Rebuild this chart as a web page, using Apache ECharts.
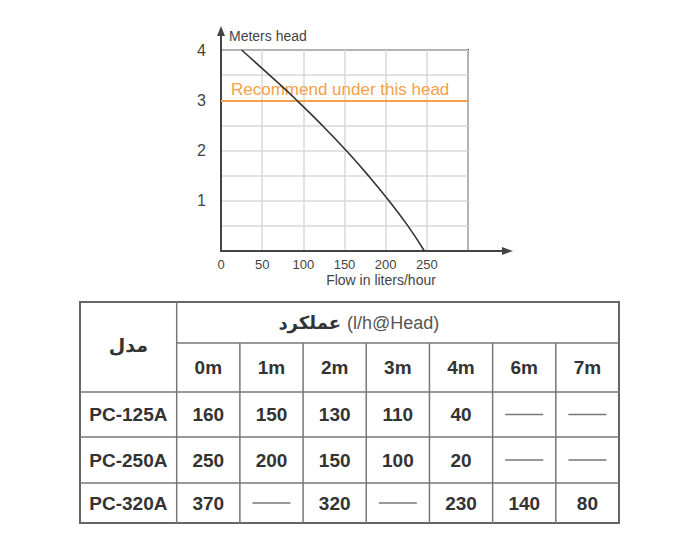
<!DOCTYPE html>
<html>
<head>
<meta charset="utf-8">
<script src="https://cdn.jsdelivr.net/npm/echarts@6/dist/echarts.min.js"></script>
<style>
html,body{margin:0;padding:0;background:#fff;}
#c{width:700px;height:544px;}
</style>
</head>
<body>
<div id="c"></div>
<script>
// ---- chart data ----
const flowValues = [25, 59, 92, 123, 152, 179, 204, 227, 247];
const headValues = [4, 3.5, 3, 2.5, 2, 1.5, 1, 0.5, 0];
const recommendHead = 3;
const recommendText = 'Recommend under this head';
const xTitle = 'Flow in liters/hour';
const yTitle = 'Meters head';
const xLabelValues = [0, 50, 100, 150, 200, 250];
const yLabelValues = [1, 2, 3, 4];

// ---- table data ----
const modelHeader = 'مدل';
const perfHeaderFa = 'عملکرد';
const perfHeaderUnit = '(l/h@Head)';
const headColumns = ['0m', '1m', '2m', '3m', '4m', '6m', '7m'];
const models = ['PC-125A', 'PC-250A', 'PC-320A'];
const perfPC125A = [160, 150, 130, 110, 40, null, null];
const perfPC250A = [250, 200, 150, 100, 20, null, null];
const perfPC320A = [370, null, 320, null, 230, 140, 80];
const tableRows = [perfPC125A, perfPC250A, perfPC320A];

const chart = echarts.init(document.getElementById('c'), null, {renderer: 'svg'});
const FONT = '"Liberation Sans", Arial, sans-serif';
const ORANGE = '#f7a04b';

const option = {
  backgroundColor: '#fff',
  animation: false,
  grid: {left: 221, top: 50, width: 247, height: 201, show: true, borderColor: '#444', borderWidth: 2, containLabel: false},
  xAxis: {
    type: 'value', min: 0, max: 300, interval: 50,
    axisLine: {show: true, lineStyle: {color: '#444', width: 2}},
    axisTick: {show: false},
    splitLine: {show: true, lineStyle: {color: '#d9d9d9', width: 1.5}},
    axisLabel: {color: '#444', fontSize: 13, fontFamily: FONT, margin: 7,
      formatter: v => xLabelValues.indexOf(v) >= 0 ? String(v) : ''}
  },
  yAxis: {
    type: 'value', min: 0, max: 4, interval: 0.5,
    name: yTitle, nameLocation: 'end', nameGap: 14,
    nameTextStyle: {color: '#444', fontSize: 14, fontFamily: FONT, align: 'left', verticalAlign: 'middle', padding: [0, 0, 0, 8]},
    axisLine: {show: true, lineStyle: {color: '#444', width: 2}},
    axisTick: {show: false},
    splitLine: {show: true, lineStyle: {color: '#d9d9d9', width: 1.5}},
    axisLabel: {color: '#444', fontSize: 16, fontFamily: FONT, margin: 15,
      formatter: v => yLabelValues.indexOf(v) >= 0 ? String(v) : ''}
  },
  series: [
    {
      type: 'line', data: [], z: 2,
      markLine: {
        silent: true, symbol: 'none',
        lineStyle: {color: ORANGE, width: 2, type: 'solid'},
        label: {show: true, position: 'insideStartTop', formatter: recommendText,
          color: ORANGE, fontSize: 17, fontFamily: FONT, distance: [10, 2]},
        data: [{yAxis: recommendHead}]
      }
    },
    {
      type: 'line', z: 5, smooth: true, symbol: 'none',
      lineStyle: {color: '#333', width: 1.6},
      data: flowValues.map((f, i) => [f, headValues[i]])
    }
  ]
};
chart.setOption(option);

// ---- extra graphics: axis arrows, x title, table ----
const p0 = chart.convertToPixel({gridIndex: 0}, [0, 0]);
const pR = chart.convertToPixel({gridIndex: 0}, [300, 0]);
const pT = chart.convertToPixel({gridIndex: 0}, [0, 4]);
const els = [];
const AX = '#444';
// x arrow
els.push({type: 'line', shape: {x1: pR[0], y1: p0[1], x2: pR[0] + 40, y2: p0[1]}, style: {stroke: AX, lineWidth: 2}});
els.push({type: 'polygon', shape: {points: [[pR[0] + 45, p0[1]], [pR[0] + 34, p0[1] - 4], [pR[0] + 34, p0[1] + 4]]}, style: {fill: AX}});
// y arrow
els.push({type: 'line', shape: {x1: p0[0], y1: pT[1], x2: p0[0], y2: pT[1] - 19}, style: {stroke: AX, lineWidth: 2}});
els.push({type: 'polygon', shape: {points: [[p0[0], pT[1] - 24], [p0[0] - 4, pT[1] - 14], [p0[0] + 4, pT[1] - 14]]}, style: {fill: AX}});
// x title
els.push({type: 'text', x: p0[0] + 160, y: p0[1] + 29,
  style: {text: xTitle, font: '14px ' + FONT, fill: '#444', align: 'center', verticalAlign: 'middle', textAlign: 'center', textVerticalAlign: 'middle'}});

// table layout
const L = 80, M = 176.7, R = 619;
const rowY = [302, 343, 392, 437, 483, 523];
const colW = (R - M) / headColumns.length;
const colX = headColumns.map((_, i) => M + i * colW);
const LINE = '#777';
function hline(y, x1, x2, w) { els.push({type: 'line', shape: {x1: x1, y1: y, x2: x2, y2: y}, style: {stroke: LINE, lineWidth: w || 1.5}}); }
function vline(x, y1, y2, w) { els.push({type: 'line', shape: {x1: x, y1: y1, x2: x, y2: y2}, style: {stroke: LINE, lineWidth: w || 1.5}}); }
function txt(s, x, y, font, fill, align) {
  els.push({type: 'text', x: x, y: y, style: {text: s, font: font, fill: fill || '#333', align: align || 'center', verticalAlign: 'middle', textAlign: align || 'center', textVerticalAlign: 'middle'}});
}
// borders
els.push({type: 'rect', shape: {x: L, y: rowY[0], width: R - L, height: rowY[5] - rowY[0]}, style: {fill: 'none', stroke: '#666', lineWidth: 2}});
hline(rowY[1], M, R);
for (let r = 2; r <= 4; r++) hline(rowY[r], L, R);
vline(M, rowY[0], rowY[5]);
for (let i = 1; i < headColumns.length; i++) vline(colX[i], rowY[1], rowY[5]);

const BOLD = 'bold 19px ' + FONT;
txt(modelHeader, (L + M) / 2, 345, 'bold 19px "DejaVu Sans", sans-serif', '#333');
const hy = (rowY[0] + rowY[1]) / 2;
txt(perfHeaderFa, 341, hy, 'bold 18px "DejaVu Sans", sans-serif', '#333', 'right');
txt(perfHeaderUnit, 347, hy, '18px ' + FONT, '#555', 'left');
headColumns.forEach((h, i) => txt(h, colX[i] + colW / 2, (rowY[1] + rowY[2]) / 2, BOLD));
models.forEach((m, r) => {
  const cy = (rowY[r + 2] + rowY[r + 3]) / 2;
  txt(m, (L + M) / 2, cy, BOLD);
  tableRows[r].forEach((v, i) => {
    const cx = colX[i] + colW / 2;
    if (v === null) {
      els.push({type: 'line', shape: {x1: cx - 19, y1: cy, x2: cx + 19, y2: cy}, style: {stroke: '#777', lineWidth: 1.3}});
    } else {
      txt(String(v), cx, cy, BOLD);
    }
  });
});

chart.setOption({graphic: {elements: els}});
</script>
</body>
</html>
